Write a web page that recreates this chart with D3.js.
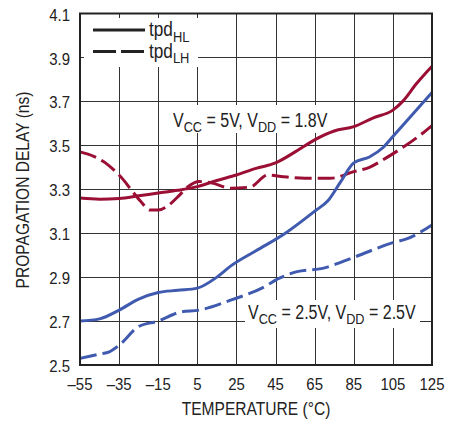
<!DOCTYPE html>
<html>
<head>
<meta charset="utf-8">
<script src="https://cdn.jsdelivr.net/npm/d3@7"></script>
<style>
  html, body { margin: 0; padding: 0; background: #fff; }
  svg text { font-family: "Liberation Sans", Arial, sans-serif; fill: #222; }
</style>
</head>
<body>
<svg id="chart" width="461" height="421"></svg>
<script>
// Axis ticks
const tempTicks = [-55, -35, -15, 5, 25, 45, 65, 85, 105, 125];
const delayTicks = [2.5, 2.7, 2.9, 3.1, 3.3, 3.5, 3.7, 3.9, 4.1];

// VCC = 5V, VDD = 1.8V
const hl5Temp  = [-55, -45, -35, -25, -15, -5, 5, 15, 25, 35, 45, 55, 65, 75, 85, 95, 105, 110, 117, 125];
const hl5Delay = [3.26, 3.255, 3.258, 3.27, 3.283, 3.295, 3.312, 3.34, 3.365, 3.395, 3.42, 3.47, 3.525, 3.565, 3.585, 3.625, 3.66, 3.70, 3.78, 3.86];
const lh5Temp  = [-55, -48, -42, -38, -33, -29, -24, -19, -15, -10, -5, 0, 6, 12, 22, 32, 41, 49, 60, 73, 85, 93, 102, 110, 118, 125];
const lh5Delay = [3.47, 3.45, 3.42, 3.39, 3.345, 3.30, 3.245, 3.205, 3.205, 3.225, 3.265, 3.31, 3.335, 3.33, 3.305, 3.31, 3.365, 3.357, 3.35, 3.35, 3.38, 3.40, 3.445, 3.49, 3.54, 3.59];

// VCC = 2.5V, VDD = 2.5V
const hl25Temp  = [-55, -45, -35, -25, -15, -5, 5, 15, 22, 35, 50, 65, 72, 78, 85, 93, 100, 105, 115, 125];
const hl25Delay = [2.70, 2.71, 2.75, 2.80, 2.83, 2.84, 2.85, 2.90, 2.95, 3.02, 3.10, 3.20, 3.25, 3.33, 3.42, 3.447, 3.49, 3.54, 3.64, 3.74];
const lh25Temp  = [-55, -45, -40, -35, -25, -15, -4, 6, 22, 38, 47, 56, 69, 85, 105, 112, 125];
const lh25Delay = [2.53, 2.55, 2.56, 2.59, 2.675, 2.70, 2.74, 2.75, 2.795, 2.85, 2.895, 2.925, 2.94, 2.99, 3.057, 3.074, 3.137];

const RED = "#9b0f35";
const BLUE = "#3f5aae";
const NARROW = 0.82; // horizontal squeeze giving a condensed face

const svg = d3.select("#chart");
const m = { left: 80, top: 13.5, right: 432, bottom: 365 };

const x = d3.scaleLinear().domain([-55, 125]).range([m.left, m.right]);
const y = d3.scaleLinear().domain([2.5, 4.1]).range([m.bottom, m.top]);

// grid
const grid = svg.append("g").attr("stroke", "#333").attr("stroke-width", 1);
grid.selectAll("line.v").data(tempTicks.slice(1, -1)).join("line")
  .attr("x1", d => Math.round(x(d)) + 0.5).attr("x2", d => Math.round(x(d)) + 0.5)
  .attr("y1", m.top).attr("y2", m.bottom);
grid.selectAll("line.h").data(delayTicks.slice(1, -1)).join("line")
  .attr("y1", d => Math.round(y(d)) + 0.5).attr("y2", d => Math.round(y(d)) + 0.5)
  .attr("x1", m.left).attr("x2", m.right);

// white panels behind legend and condition labels
const panels = [[84, 18, 114, 49], [161, 105, 174, 28], [245, 300, 175, 28]];
svg.append("g").selectAll("rect").data(panels).join("rect")
  .attr("x", d => d[0]).attr("y", d => d[1]).attr("width", d => d[2]).attr("height", d => d[3])
  .attr("fill", "#fff");

// curves
const line = d3.line().x(d => x(d[0])).y(d => y(d[1])).curve(d3.curveMonotoneX);
const zip = (a, b) => a.map((t, i) => [t, b[i]]);
const series = [
  { pts: zip(hl5Temp, hl5Delay), color: RED, dash: null },
  { pts: zip(lh5Temp, lh5Delay), color: RED, dash: "17,6" },
  { pts: zip(hl25Temp, hl25Delay), color: BLUE, dash: null },
  { pts: zip(lh25Temp, lh25Delay), color: BLUE, dash: "17,6" }
];
svg.append("g").selectAll("path").data(series).join("path")
  .attr("d", d => line(d.pts))
  .attr("fill", "none")
  .attr("stroke", d => d.color)
  .attr("stroke-width", 3)
  .attr("stroke-dasharray", d => d.dash);

// frame
svg.append("rect").attr("x", m.left).attr("y", m.top)
  .attr("width", m.right - m.left).attr("height", m.bottom - m.top)
  .attr("fill", "none").attr("stroke", "#222").attr("stroke-width", 2);

// condensed text placed at (px, py), optionally rotated
function label(px, py, size, anchor, rot, squeeze) {
  const s = squeeze || NARROW;
  return svg.append("text")
    .attr("transform", `translate(${px},${py})${rot ? ` rotate(${rot})` : ""} scale(${s},1)`)
    .attr("font-size", size)
    .attr("text-anchor", anchor);
}

// tick labels
delayTicks.forEach(d => label(70, y(d) + 1, 17, "end", 0, 0.88).attr("dy", "0.36em").text(d.toFixed(1)));
tempTicks.forEach(d => label(x(d), 390, 17, "middle", 0, 0.88).text(d < 0 ? "\u2013" + Math.abs(d) : String(d)));

// axis titles
label(256, 415, 19, "middle").text("TEMPERATURE (°C)");
label(29, 190, 19, "middle", -90).text("PROPAGATION DELAY (ns)");

// text with subscripts: parts = [[text, isSub], ...]
function richText(px, py, size, subSize, parts, squeeze) {
  const t = label(px, py, size, "start", 0, squeeze);
  let shifted = false;
  parts.forEach(([s, sub]) => {
    const ts = t.append("tspan").text(s);
    if (sub) {
      ts.attr("font-size", subSize);
      if (!shifted) { ts.attr("dy", size * 0.28); shifted = true; }
    } else if (shifted) {
      ts.attr("dy", -size * 0.28); shifted = false;
    }
  });
  return t;
}

// legend
const legendItems = [
  { dash: null, sub: "HL", ly: 30, ty: 36 },
  { dash: "23,5", sub: "LH", ly: 51.5, ty: 57.5 }
];
legendItems.forEach(d => {
  svg.append("line").attr("x1", 93).attr("x2", 145).attr("y1", d.ly).attr("y2", d.ly)
    .attr("stroke", "#222").attr("stroke-width", 3).attr("stroke-dasharray", d.dash);
  richText(149, d.ty, 20, 15, [["tpd", false], [d.sub, true]], 0.86);
});

// operating-condition labels
richText(173, 127, 19.5, 15.5, [["V", false], ["CC", true], [" = 5V, V", false], ["DD", true], [" = 1.8V", false]]);
richText(248, 319, 19.5, 15.5, [["V", false], ["CC", true], [" = 2.5V, V", false], ["DD", true], [" = 2.5V", false]]);
</script>
</body>
</html>
